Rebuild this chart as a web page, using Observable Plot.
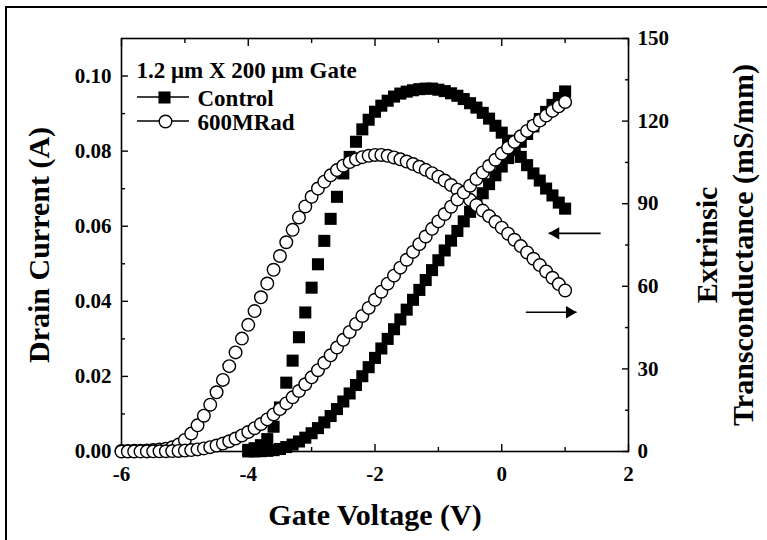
<!DOCTYPE html>
<html>
<head>
<meta charset="utf-8">
<script src="https://cdn.jsdelivr.net/npm/d3@7"></script>
<script src="https://cdn.jsdelivr.net/npm/@observablehq/plot@0.6"></script>
<style>
  html, body { margin: 0; padding: 0; background: #fff; overflow: hidden; }
  #figure { position: relative; width: 767px; height: 540px; overflow: hidden; background: #fff; }
  #figure .border { position: absolute; left: 5px; top: 6px; width: 820px; height: 620px;
    border-top: 2px solid #000; border-left: 2px solid #000; pointer-events: none; }
  #figure svg { position: absolute; left: 0; top: 0; }
</style>
</head>
<body>
<div id="figure"><div class="border"></div></div>
<script>
// Gate sweeps (V)
const controlGate = [-4.0,-3.9,-3.8,-3.7,-3.6,-3.5,-3.4,-3.3,-3.2,-3.1,-3.0,-2.9,-2.8,-2.7,-2.6,-2.5,-2.4,-2.3,-2.2,-2.1,-2.0,-1.9,-1.8,-1.7,-1.6,-1.5,-1.4,-1.3,-1.2,-1.1,-1.0,-0.9,-0.8,-0.7,-0.6,-0.5,-0.4,-0.3,-0.2,-0.1,0.0,0.1,0.2,0.3,0.4,0.5,0.6,0.7,0.8,0.9,1.0];
const radGate = [-6.0,-5.9,-5.8,-5.7,-5.6,-5.5,-5.4,-5.3,-5.2,-5.1,-5.0,-4.9,-4.8,-4.7,-4.6,-4.5,-4.4,-4.3,-4.2,-4.1,-4.0,-3.9,-3.8,-3.7,-3.6,-3.5,-3.4,-3.3,-3.2,-3.1,-3.0,-2.9,-2.8,-2.7,-2.6,-2.5,-2.4,-2.3,-2.2,-2.1,-2.0,-1.9,-1.8,-1.7,-1.6,-1.5,-1.4,-1.3,-1.2,-1.1,-1.0,-0.9,-0.8,-0.7,-0.6,-0.5,-0.4,-0.3,-0.2,-0.1,0.0,0.1,0.2,0.3,0.4,0.5,0.6,0.7,0.8,0.9,1.0];

// Drain current (A)
const controlCurrent = [0.00002,0.00004,0.00009,0.00018,0.00036,0.00068,0.00118,0.00184,0.00267,0.00368,0.00487,0.00623,0.00776,0.00945,0.0113,0.01332,0.01546,0.01771,0.02005,0.02246,0.02493,0.02744,0.02999,0.03257,0.03517,0.03778,0.0404,0.04304,0.04567,0.04831,0.05094,0.05355,0.05616,0.05874,0.0613,0.06383,0.06633,0.06879,0.07121,0.07357,0.07589,0.07815,0.08035,0.08249,0.08457,0.08659,0.08855,0.09046,0.09232,0.09413,0.0959];
const radCurrent = [0.000004,0.000008,0.000014,0.00002,0.000028,0.000038,0.000052,0.000072,0.0001,0.00015,0.00024,0.00037,0.00056,0.00082,0.00116,0.00159,0.00211,0.00273,0.00345,0.00427,0.00519,0.00621,0.00733,0.00855,0.00987,0.01129,0.01281,0.01442,0.01612,0.0179,0.01975,0.02166,0.02362,0.02562,0.02767,0.02974,0.03184,0.03397,0.0361,0.03825,0.04041,0.04256,0.04471,0.04684,0.04897,0.05107,0.05316,0.05523,0.05727,0.0593,0.06129,0.06326,0.0652,0.0671,0.06896,0.07079,0.07258,0.07433,0.07604,0.07771,0.07934,0.08092,0.08246,0.08395,0.08539,0.08679,0.08815,0.08946,0.09072,0.09193,0.0931];

// Extrinsic transconductance (mS/mm)
const controlGm = [0.6,1.2,2.3,4.5,9,16,25,33,41.5,50.5,59.5,68,76.5,84.5,92.5,101,107,112.5,117,120.5,123.4,125.6,127.4,128.9,130,130.7,131.2,131.6,131.8,131.8,131.4,130.9,130.1,129.2,128,126.5,124.9,123,120.9,118.3,115.8,112.9,110,107,104,101,98.4,95.5,93,90.4,88.2];
const radGm = [0.2,0.2,0.3,0.3,0.4,0.5,0.7,1.0,1.5,2.5,4.2,6.5,9.5,13,17,21.5,26,31,36,41,46,51,56,61,66,71,76,80.5,85,89,92.5,95.5,98,100.3,102.2,103.8,105.1,106.1,106.9,107.4,107.7,107.7,107.4,106.8,106.1,105.3,104.4,103.4,102.3,101.1,99.8,98.4,96.8,95.1,93.3,91.4,89.5,87.5,85.5,83.4,81.3,79.1,76.9,74.6,72.3,70,67.7,65.4,63.1,60.8,58.5];

// Axis ticks
const gateTicks = [-6, -4, -2, 0, 2];
const gateMinorTicks = [-5, -3, -1, 1];
const currentTicks = [0, 0.02, 0.04, 0.06, 0.08, 0.10];
const currentMinorTicks = [0.01, 0.03, 0.05, 0.07, 0.09];
const gmTicks = [0, 30, 60, 90, 120, 150];
const gmMinorTicks = [15, 45, 75, 105, 135];

// Arrows pointing each family to its axis: from / to gate voltage, at a drain current level
const leftArrow = {from: 1.56, to: 0.74, current: 0.0581};
const rightArrow = {from: 0.38, to: 1.18, current: 0.0371};

const currentMax = 0.11;
const gmMax = 150;
const gmToCurrent = currentMax / gmMax;   // both left and right axes share one vertical scale

const controlRows = controlGate.map((v, i) => ({gate: v, current: controlCurrent[i], gm: controlGm[i] * gmToCurrent}));
const radRows = radGate.map((v, i) => ({gate: v, current: radCurrent[i], gm: radGm[i] * gmToCurrent}));

const margin = {left: 121, right: 139, top: 38, bottom: 89};
const font = '"Liberation Serif", "Times New Roman", Times, serif';
const tickFont = {fontSize: 21, fontWeight: "bold", fontFamily: font};
const titleFont = {fontSize: 30, fontWeight: "bold", fontFamily: font};
const gateFormat = d => (d < 0 ? "-" + Math.abs(d) : String(d));

const squareR = 6.8, circleR = 6.3;

// Short legend strokes drawn behind the legend symbols
function legendStrokes() {
  const g = d3.create("svg:g").attr("stroke", "#000").attr("stroke-width", 1.6);
  g.append("line").attr("x1", 137).attr("x2", 189).attr("y1", 97).attr("y2", 97);
  g.append("line").attr("x1", 137).attr("x2", 189).attr("y1", 121).attr("y2", 121);
  return g.node();
}

const chart = Plot.plot({
  width: 767,
  height: 540,
  marginLeft: margin.left,
  marginRight: margin.right,
  marginTop: margin.top,
  marginBottom: margin.bottom,
  x: {domain: [-6, 2]},
  y: {domain: [0, currentMax]},
  style: {fontFamily: font, color: "#000", background: "transparent", overflow: "visible"},
  marks: [
    Plot.frame({stroke: "#000", strokeWidth: 1.6}),

    // tick labels
    Plot.axisX(gateTicks, {anchor: "bottom", tickSize: 0, tickPadding: 15, tickFormat: gateFormat, label: null, ...tickFont}),
    Plot.axisY(currentTicks, {anchor: "left", tickSize: 0, tickPadding: 10, tickFormat: d3.format(".2f"), label: null, ...tickFont}),
    Plot.axisY(gmTicks.map(g => g * gmToCurrent), {anchor: "right", tickSize: 0, tickPadding: 9, tickFormat: d => String(Math.round(d / gmToCurrent)), label: null, ...tickFont}),

    // inward tick marks on all four sides
    Plot.axisX(gateTicks, {anchor: "bottom", tickSize: 7, dy: -7, fill: "none", label: null, strokeWidth: 1.4}),
    Plot.axisX(gateMinorTicks, {anchor: "bottom", tickSize: 4, dy: -4, fill: "none", label: null, strokeWidth: 1.4}),
    Plot.axisX(gateTicks, {anchor: "top", tickSize: 7, dy: 7, fill: "none", label: null, strokeWidth: 1.4}),
    Plot.axisX(gateMinorTicks, {anchor: "top", tickSize: 4, dy: 4, fill: "none", label: null, strokeWidth: 1.4}),
    Plot.axisY(currentTicks, {anchor: "left", tickSize: 7, dx: 7, fill: "none", label: null, strokeWidth: 1.4}),
    Plot.axisY(currentMinorTicks, {anchor: "left", tickSize: 4, dx: 4, fill: "none", label: null, strokeWidth: 1.4}),
    Plot.axisY(gmTicks.map(g => g * gmToCurrent), {anchor: "right", tickSize: 7, dx: -7, fill: "none", label: null, strokeWidth: 1.4}),
    Plot.axisY(gmMinorTicks.map(g => g * gmToCurrent), {anchor: "right", tickSize: 4, dx: -4, fill: "none", label: null, strokeWidth: 1.4}),

    // axis titles
    Plot.text(["Gate Voltage (V)"], {frameAnchor: "bottom", dy: 73, textAnchor: "middle", lineAnchor: "bottom", ...titleFont}),
    Plot.text(["Drain Current (A)"], {frameAnchor: "left", dx: -73, rotate: -90, textAnchor: "middle", lineAnchor: "bottom", ...titleFont}),
    Plot.text(["Extrinsic"], {frameAnchor: "right", dx: 88, rotate: -90, textAnchor: "middle", lineAnchor: "bottom", ...titleFont}),
    Plot.text(["Transconductance (mS/mm)"], {frameAnchor: "right", dx: 124, rotate: -90, textAnchor: "middle", lineAnchor: "bottom", ...titleFont}),

    // Control device: filled squares
    Plot.dot(controlRows, {x: "gate", y: "gm", symbol: "square", r: squareR, fill: "#000", stroke: null}),
    Plot.dot(controlRows, {x: "gate", y: "current", symbol: "square", r: squareR, fill: "#000", stroke: null}),
    // After 600 MRad: open circles
    Plot.dot(radRows, {x: "gate", y: "gm", symbol: "circle", r: circleR, fill: "#fff", stroke: "#000", strokeWidth: 1.4}),
    Plot.dot(radRows, {x: "gate", y: "current", symbol: "circle", r: circleR, fill: "#fff", stroke: "#000", strokeWidth: 1.4}),

    // arrows
    Plot.link([leftArrow, rightArrow], {x1: "from", x2: "to", y1: "current", y2: "current", stroke: "#000", strokeWidth: 1.6}),
    Plot.dot([leftArrow], {x: "to", y: "current", symbol: "triangle", rotate: -90, r: 4.6, dx: 7, fill: "#000", stroke: null}),
    Plot.dot([rightArrow], {x: "to", y: "current", symbol: "triangle", rotate: 90, r: 4.6, dx: -7, fill: "#000", stroke: null}),

    // legend
    Plot.text(["1.2 \u03bcm X 200 \u03bcm Gate"], {frameAnchor: "top-left", dx: 15, dy: 39, textAnchor: "start", lineAnchor: "bottom", fontSize: 23, fontWeight: "bold", fontFamily: font}),
    legendStrokes,
    Plot.dot(["Control"], {frameAnchor: "top-left", x: null, y: null, dx: 43, dy: 59, symbol: "square", r: squareR, fill: "#000", stroke: null}),
    Plot.dot(["600MRad"], {frameAnchor: "top-left", x: null, y: null, dx: 44, dy: 83, symbol: "circle", r: circleR, fill: "#fff", stroke: "#000", strokeWidth: 1.4}),
    Plot.text(["Control"], {frameAnchor: "top-left", dx: 76, dy: 67, textAnchor: "start", lineAnchor: "bottom", fontSize: 23, fontWeight: "bold", fontFamily: font}),
    Plot.text(["600MRad"], {frameAnchor: "top-left", dx: 76, dy: 91, textAnchor: "start", lineAnchor: "bottom", fontSize: 23, fontWeight: "bold", fontFamily: font})
  ]
});

document.getElementById("figure").appendChild(chart);
</script>
</body>
</html>
